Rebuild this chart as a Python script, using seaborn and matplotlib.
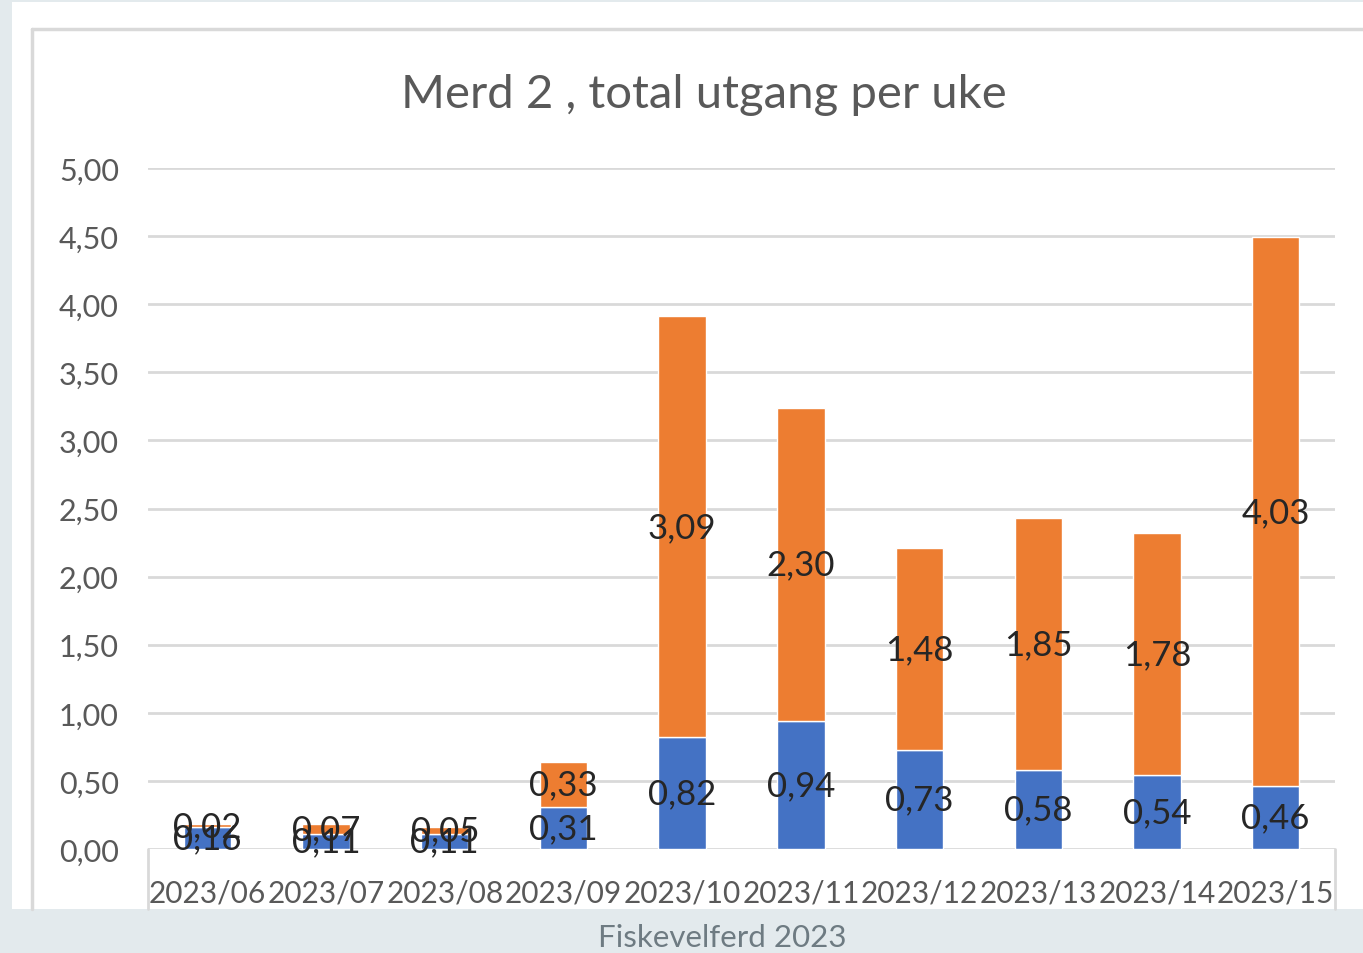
import matplotlib
matplotlib.use("Agg")
import matplotlib.pyplot as plt
import seaborn as sns
import pandas as pd
from matplotlib.patches import Rectangle
from matplotlib.lines import Line2D

weeks = ["2023/06", "2023/07", "2023/08", "2023/09", "2023/10",
         "2023/11", "2023/12", "2023/13", "2023/14", "2023/15"]
blue_vals = [0.16, 0.11, 0.11, 0.31, 0.82, 0.94, 0.73, 0.58, 0.54, 0.46]
orange_vals = [0.02, 0.07, 0.05, 0.33, 3.09, 2.30, 1.48, 1.85, 1.78, 4.03]
yticks = [0, 0.5, 1.0, 1.5, 2.0, 2.5, 3.0, 3.5, 4.0, 4.5, 5.0]

BLUE = "#4472C4"
ORANGE = "#ED7D31"
FONT = "Lato"

sns.set_theme(style="white")
plt.rcParams["font.family"] = [FONT, "DejaVu Sans"]

df = pd.DataFrame({"week": weeks, "blue": blue_vals, "orange": orange_vals})

W, H = 1363, 954
fig = plt.figure(figsize=(W / 100, H / 100), dpi=100)
fig.patch.set_facecolor("#e3eaed")

def fx(px):
    return px / W

def fy(py):
    return 1 - py / H

# white panel
fig.patches.append(Rectangle((fx(12), fy(910)), fx(1363) - fx(12), fy(3) - fy(910),
                             transform=fig.transFigure, facecolor="white",
                             edgecolor="none", zorder=-2))
# chart area border
fig.lines.append(Line2D([fx(32), fx(32)], [fy(910), fy(30)], transform=fig.transFigure,
                        color="#d9d9d9", lw=2.5, zorder=-1))
fig.lines.append(Line2D([fx(32), fx(1363)], [fy(30), fy(30)], transform=fig.transFigure,
                        color="#d9d9d9", lw=2.5, zorder=-1))

ax = fig.add_axes([fx(148), fy(850), fx(1335) - fx(148), fy(169) - fy(850)])
ax.set_facecolor("none")
ax.set_zorder(2)

sns.barplot(data=df, x="week", y="blue", color=BLUE, width=0.4, ax=ax,
            saturation=1, zorder=3)
sns.barplot(data=df, x="week", y="orange", color=ORANGE, width=0.4, ax=ax,
            saturation=1, bottom=df["blue"], zorder=3)

ax.set_ylim(0, 5)
ax.set_xlim(-0.5, len(weeks) - 0.5)
ax.set_yticks(yticks)
ax.set_yticklabels([f"{v:.2f}".replace(".", ",") for v in yticks])
ax.grid(axis="y", color="#d9d9d9", lw=2, zorder=0)
ax.grid(axis="x", visible=False)
ax.set_axisbelow(True)
for s in ax.spines.values():
    s.set_visible(False)
ax.tick_params(axis="y", length=0, pad=21, labelsize=22, labelcolor="#595959")
ax.tick_params(axis="x", length=0, pad=21, labelsize=21.5, labelcolor="#595959")
ax.set_xlabel("")
ax.set_ylabel("")

# category box lines below axis
for xx in (0, 1):
    ax.add_line(Line2D([xx, xx], [0, -(910 - 850) / (850 - 169)], transform=ax.transAxes,
                       color="#d9d9d9", lw=2, clip_on=False, zorder=1))

for cont, vals in zip(ax.containers, [blue_vals, orange_vals]):
    ax.bar_label(cont, labels=[f"{v:.2f}".replace(".", ",") for v in vals],
                 label_type="center", fontsize=25, color="#262626", zorder=5)

fig.text(fx(704), fy(95), "Merd 2 , total utgang per uke", ha="center", va="center",
         fontsize=34, color="#595959")
fig.text(fx(722), fy(938), "Fiskevelferd 2023", ha="center", va="center",
         fontsize=22.5, color="#6e7b82")

fig.savefig("out.png", dpi=100, facecolor=fig.get_facecolor())
